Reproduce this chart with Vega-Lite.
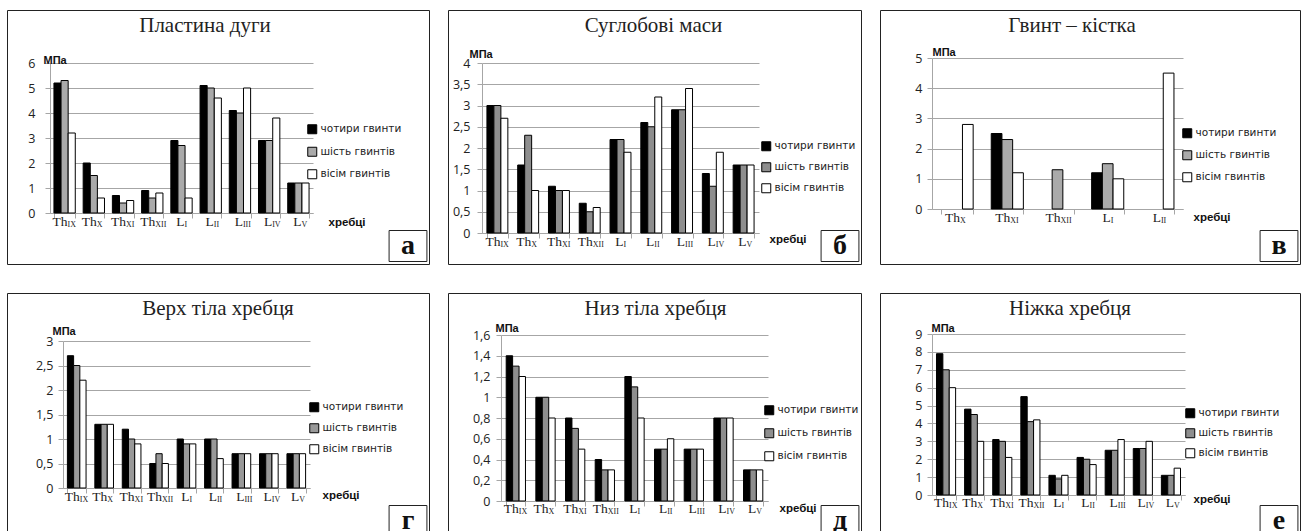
{
  "$schema": "https://vega.github.io/schema/vega-lite/v6.json",
  "background": "white",
  "padding": {"left": 6, "top": 9, "right": 0, "bottom": 0},
  "datasets": {
    "bars": [
      {"p":"а","v":"ThIX","s":"чотири гвинти","val":5.2},{"p":"а","v":"ThIX","s":"шість гвинтів","val":5.3},{"p":"а","v":"ThIX","s":"вісім гвинтів","val":3.2},
      {"p":"а","v":"ThX","s":"чотири гвинти","val":2.0},{"p":"а","v":"ThX","s":"шість гвинтів","val":1.5},{"p":"а","v":"ThX","s":"вісім гвинтів","val":0.6},
      {"p":"а","v":"ThXI","s":"чотири гвинти","val":0.7},{"p":"а","v":"ThXI","s":"шість гвинтів","val":0.4},{"p":"а","v":"ThXI","s":"вісім гвинтів","val":0.5},
      {"p":"а","v":"ThXII","s":"чотири гвинти","val":0.9},{"p":"а","v":"ThXII","s":"шість гвинтів","val":0.6},{"p":"а","v":"ThXII","s":"вісім гвинтів","val":0.8},
      {"p":"а","v":"LI","s":"чотири гвинти","val":2.9},{"p":"а","v":"LI","s":"шість гвинтів","val":2.7},{"p":"а","v":"LI","s":"вісім гвинтів","val":0.6},
      {"p":"а","v":"LII","s":"чотири гвинти","val":5.1},{"p":"а","v":"LII","s":"шість гвинтів","val":5.0},{"p":"а","v":"LII","s":"вісім гвинтів","val":4.6},
      {"p":"а","v":"LIII","s":"чотири гвинти","val":4.1},{"p":"а","v":"LIII","s":"шість гвинтів","val":4.0},{"p":"а","v":"LIII","s":"вісім гвинтів","val":5.0},
      {"p":"а","v":"LIV","s":"чотири гвинти","val":2.9},{"p":"а","v":"LIV","s":"шість гвинтів","val":2.9},{"p":"а","v":"LIV","s":"вісім гвинтів","val":3.8},
      {"p":"а","v":"LV","s":"чотири гвинти","val":1.2},{"p":"а","v":"LV","s":"шість гвинтів","val":1.2},{"p":"а","v":"LV","s":"вісім гвинтів","val":1.2},

      {"p":"б","v":"ThIX","s":"чотири гвинти","val":3.0},{"p":"б","v":"ThIX","s":"шість гвинтів","val":3.0},{"p":"б","v":"ThIX","s":"вісім гвинтів","val":2.7},
      {"p":"б","v":"ThX","s":"чотири гвинти","val":1.6},{"p":"б","v":"ThX","s":"шість гвинтів","val":2.3},{"p":"б","v":"ThX","s":"вісім гвинтів","val":1.0},
      {"p":"б","v":"ThXI","s":"чотири гвинти","val":1.1},{"p":"б","v":"ThXI","s":"шість гвинтів","val":1.0},{"p":"б","v":"ThXI","s":"вісім гвинтів","val":1.0},
      {"p":"б","v":"ThXII","s":"чотири гвинти","val":0.7},{"p":"б","v":"ThXII","s":"шість гвинтів","val":0.5},{"p":"б","v":"ThXII","s":"вісім гвинтів","val":0.6},
      {"p":"б","v":"LI","s":"чотири гвинти","val":2.2},{"p":"б","v":"LI","s":"шість гвинтів","val":2.2},{"p":"б","v":"LI","s":"вісім гвинтів","val":1.9},
      {"p":"б","v":"LII","s":"чотири гвинти","val":2.6},{"p":"б","v":"LII","s":"шість гвинтів","val":2.5},{"p":"б","v":"LII","s":"вісім гвинтів","val":3.2},
      {"p":"б","v":"LIII","s":"чотири гвинти","val":2.9},{"p":"б","v":"LIII","s":"шість гвинтів","val":2.9},{"p":"б","v":"LIII","s":"вісім гвинтів","val":3.4},
      {"p":"б","v":"LIV","s":"чотири гвинти","val":1.4},{"p":"б","v":"LIV","s":"шість гвинтів","val":1.1},{"p":"б","v":"LIV","s":"вісім гвинтів","val":1.9},
      {"p":"б","v":"LV","s":"чотири гвинти","val":1.6},{"p":"б","v":"LV","s":"шість гвинтів","val":1.6},{"p":"б","v":"LV","s":"вісім гвинтів","val":1.6},

      {"p":"в","v":"ThX","s":"вісім гвинтів","val":2.8},
      {"p":"в","v":"ThXI","s":"чотири гвинти","val":2.5},{"p":"в","v":"ThXI","s":"шість гвинтів","val":2.3},{"p":"в","v":"ThXI","s":"вісім гвинтів","val":1.2},
      {"p":"в","v":"ThXII","s":"шість гвинтів","val":1.3},
      {"p":"в","v":"LI","s":"чотири гвинти","val":1.2},{"p":"в","v":"LI","s":"шість гвинтів","val":1.5},{"p":"в","v":"LI","s":"вісім гвинтів","val":1.0},
      {"p":"в","v":"LII","s":"вісім гвинтів","val":4.5},

      {"p":"г","v":"ThIX","s":"чотири гвинти","val":2.7},{"p":"г","v":"ThIX","s":"шість гвинтів","val":2.5},{"p":"г","v":"ThIX","s":"вісім гвинтів","val":2.2},
      {"p":"г","v":"ThX","s":"чотири гвинти","val":1.3},{"p":"г","v":"ThX","s":"шість гвинтів","val":1.3},{"p":"г","v":"ThX","s":"вісім гвинтів","val":1.3},
      {"p":"г","v":"ThXI","s":"чотири гвинти","val":1.2},{"p":"г","v":"ThXI","s":"шість гвинтів","val":1.0},{"p":"г","v":"ThXI","s":"вісім гвинтів","val":0.9},
      {"p":"г","v":"ThXII","s":"чотири гвинти","val":0.5},{"p":"г","v":"ThXII","s":"шість гвинтів","val":0.7},{"p":"г","v":"ThXII","s":"вісім гвинтів","val":0.5},
      {"p":"г","v":"LI","s":"чотири гвинти","val":1.0},{"p":"г","v":"LI","s":"шість гвинтів","val":0.9},{"p":"г","v":"LI","s":"вісім гвинтів","val":0.9},
      {"p":"г","v":"LII","s":"чотири гвинти","val":1.0},{"p":"г","v":"LII","s":"шість гвинтів","val":1.0},{"p":"г","v":"LII","s":"вісім гвинтів","val":0.6},
      {"p":"г","v":"LIII","s":"чотири гвинти","val":0.7},{"p":"г","v":"LIII","s":"шість гвинтів","val":0.7},{"p":"г","v":"LIII","s":"вісім гвинтів","val":0.7},
      {"p":"г","v":"LIV","s":"чотири гвинти","val":0.7},{"p":"г","v":"LIV","s":"шість гвинтів","val":0.7},{"p":"г","v":"LIV","s":"вісім гвинтів","val":0.7},
      {"p":"г","v":"LV","s":"чотири гвинти","val":0.7},{"p":"г","v":"LV","s":"шість гвинтів","val":0.7},{"p":"г","v":"LV","s":"вісім гвинтів","val":0.7},

      {"p":"д","v":"ThIX","s":"чотири гвинти","val":1.4},{"p":"д","v":"ThIX","s":"шість гвинтів","val":1.3},{"p":"д","v":"ThIX","s":"вісім гвинтів","val":1.2},
      {"p":"д","v":"ThX","s":"чотири гвинти","val":1.0},{"p":"д","v":"ThX","s":"шість гвинтів","val":1.0},{"p":"д","v":"ThX","s":"вісім гвинтів","val":0.8},
      {"p":"д","v":"ThXI","s":"чотири гвинти","val":0.8},{"p":"д","v":"ThXI","s":"шість гвинтів","val":0.7},{"p":"д","v":"ThXI","s":"вісім гвинтів","val":0.5},
      {"p":"д","v":"ThXII","s":"чотири гвинти","val":0.4},{"p":"д","v":"ThXII","s":"шість гвинтів","val":0.3},{"p":"д","v":"ThXII","s":"вісім гвинтів","val":0.3},
      {"p":"д","v":"LI","s":"чотири гвинти","val":1.2},{"p":"д","v":"LI","s":"шість гвинтів","val":1.1},{"p":"д","v":"LI","s":"вісім гвинтів","val":0.8},
      {"p":"д","v":"LII","s":"чотири гвинти","val":0.5},{"p":"д","v":"LII","s":"шість гвинтів","val":0.5},{"p":"д","v":"LII","s":"вісім гвинтів","val":0.6},
      {"p":"д","v":"LIII","s":"чотири гвинти","val":0.5},{"p":"д","v":"LIII","s":"шість гвинтів","val":0.5},{"p":"д","v":"LIII","s":"вісім гвинтів","val":0.5},
      {"p":"д","v":"LIV","s":"чотири гвинти","val":0.8},{"p":"д","v":"LIV","s":"шість гвинтів","val":0.8},{"p":"д","v":"LIV","s":"вісім гвинтів","val":0.8},
      {"p":"д","v":"LV","s":"чотири гвинти","val":0.3},{"p":"д","v":"LV","s":"шість гвинтів","val":0.3},{"p":"д","v":"LV","s":"вісім гвинтів","val":0.3},

      {"p":"е","v":"ThIX","s":"чотири гвинти","val":7.9},{"p":"е","v":"ThIX","s":"шість гвинтів","val":7.0},{"p":"е","v":"ThIX","s":"вісім гвинтів","val":6.0},
      {"p":"е","v":"ThX","s":"чотири гвинти","val":4.8},{"p":"е","v":"ThX","s":"шість гвинтів","val":4.5},{"p":"е","v":"ThX","s":"вісім гвинтів","val":3.0},
      {"p":"е","v":"ThXI","s":"чотири гвинти","val":3.1},{"p":"е","v":"ThXI","s":"шість гвинтів","val":3.0},{"p":"е","v":"ThXI","s":"вісім гвинтів","val":2.1},
      {"p":"е","v":"ThXII","s":"чотири гвинти","val":5.5},{"p":"е","v":"ThXII","s":"шість гвинтів","val":4.1},{"p":"е","v":"ThXII","s":"вісім гвинтів","val":4.2},
      {"p":"е","v":"LI","s":"чотири гвинти","val":1.1},{"p":"е","v":"LI","s":"шість гвинтів","val":0.9},{"p":"е","v":"LI","s":"вісім гвинтів","val":1.1},
      {"p":"е","v":"LII","s":"чотири гвинти","val":2.1},{"p":"е","v":"LII","s":"шість гвинтів","val":2.0},{"p":"е","v":"LII","s":"вісім гвинтів","val":1.7},
      {"p":"е","v":"LIII","s":"чотири гвинти","val":2.5},{"p":"е","v":"LIII","s":"шість гвинтів","val":2.5},{"p":"е","v":"LIII","s":"вісім гвинтів","val":3.1},
      {"p":"е","v":"LIV","s":"чотири гвинти","val":2.6},{"p":"е","v":"LIV","s":"шість гвинтів","val":2.6},{"p":"е","v":"LIV","s":"вісім гвинтів","val":3.0},
      {"p":"е","v":"LV","s":"чотири гвинти","val":1.1},{"p":"е","v":"LV","s":"шість гвинтів","val":1.1},{"p":"е","v":"LV","s":"вісім гвинтів","val":1.5}
    ],
    "labels": [
      {"v":"ThIX","m":"Th","sb":"IX"},{"v":"ThX","m":"Th","sb":"X"},{"v":"ThXI","m":"Th","sb":"XI"},{"v":"ThXII","m":"Th","sb":"XII"},
      {"v":"LI","m":"L","sb":"I"},{"v":"LII","m":"L","sb":"II"},{"v":"LIII","m":"L","sb":"III"},{"v":"LIV","m":"L","sb":"IV"},{"v":"LV","m":"L","sb":"V"}
    ]
  },
  "vconcat": [
    {
      "hconcat": [
        {
          "width": 422, "height": 254,
          "title": {"text": "Пластина дуги", "dx": -13},
          "resolve": {"axis": {"x": "independent", "y": "independent"}},
          "layer": [
            {
              "data": {"name": "bars"},
              "transform": [{"filter": "datum.p === 'а'"}],
              "mark": "bar",
              "encoding": {
                "x": {"field": "v", "type": "nominal", "scale": {"domain": ["ThIX","ThX","ThXI","ThXII","LI","LII","LIII","LIV","LV"], "range": [43, 306], "paddingInner": 0.27, "paddingOuter": 0.135}, "axis": {"title": "хребці", "offset": -51, "titleX": 321, "titleY": 12, "tickBand": "extent"}},
                "xOffset": {"field": "s", "type": "nominal", "scale": {"domain": ["чотири гвинти","шість гвинтів","вісім гвинтів"], "paddingInner": 0, "paddingOuter": 0}},
                "y": {"field": "val", "type": "quantitative", "scale": {"domain": [0, 6], "range": [203, 53], "nice": false}, "axis": {"title": "МПа", "offset": -43, "values": [0,1,2,3,4,5,6], "titleX": -7, "titleY": 53, "labelPadding": 10}},
                "color": {"field": "s", "type": "nominal", "scale": {"domain": ["чотири гвинти","шість гвинтів","вісім гвинтів"], "range": ["#000000", "#aaaaaa", "#ffffff"]}, "legend": {"title": null, "orient": "none", "direction": "vertical", "legendX": 300, "legendY": 114, "rowPadding": 8.5}},
                "opacity": {"field": "p", "type": "nominal", "scale": {"range": [1]}, "legend": {"title": null, "orient": "bottom-right", "offset": 0, "padding": 0, "symbolType": "M-1.22,-1H1.22V1H-1.22Z", "symbolSize": 961, "symbolFillColor": "#ffffff", "symbolStrokeColor": "#222222", "symbolStrokeWidth": 1.2, "symbolOpacity": 1, "labelFont": "Liberation Serif", "labelFontSize": 28, "labelFontWeight": "bold", "labelColor": "#111111", "labelAlign": "center", "labelBaseline": "middle", "labelOffset": -16}}
              }
            },
            {
              "data": {"name": "labels"},
              "mark": {"type": "text", "align": "right", "baseline": "alphabetic", "dx": 3, "dy": 13, "fontSize": 13.5},
              "encoding": {
                "x": {"field": "v", "type": "nominal", "scale": {"domain": ["ThIX","ThX","ThXI","ThXII","LI","LII","LIII","LIV","LV"]}, "axis": null},
                "y": {"datum": 0, "type": "quantitative", "scale": {"domain": [0, 6]}, "axis": null},
                "text": {"field": "m"}
              }
            },
            {
              "data": {"name": "labels"},
              "mark": {"type": "text", "align": "left", "baseline": "alphabetic", "dx": 3, "dy": 14, "fontSize": 8},
              "encoding": {
                "x": {"field": "v", "type": "nominal", "scale": {"domain": ["ThIX","ThX","ThXI","ThXII","LI","LII","LIII","LIV","LV"]}, "axis": null},
                "y": {"datum": 0, "type": "quantitative", "scale": {"domain": [0, 6]}, "axis": null},
                "text": {"field": "sb"}
              }
            }
          ]
        },
        {
          "width": 413, "height": 254,
          "title": {"text": "Суглобові маси", "dx": -1},
          "resolve": {"axis": {"x": "independent", "y": "independent"}},
          "layer": [
            {
              "data": {"name": "bars"},
              "transform": [{"filter": "datum.p === 'б'"}],
              "mark": "bar",
              "encoding": {
                "x": {"field": "v", "type": "nominal", "scale": {"domain": ["ThIX","ThX","ThXI","ThXII","LI","LII","LIII","LIV","LV"], "range": [34, 311], "paddingInner": 0.32, "paddingOuter": 0.16}, "axis": {"title": "хребці", "offset": -31, "titleX": 321, "titleY": 9, "tickBand": "extent"}},
                "xOffset": {"field": "s", "type": "nominal", "scale": {"domain": ["чотири гвинти","шість гвинтів","вісім гвинтів"], "paddingInner": 0, "paddingOuter": 0}},
                "y": {"field": "val", "type": "quantitative", "scale": {"domain": [0, 4], "range": [223, 53], "nice": false}, "axis": {"title": "МПа", "offset": -34, "values": [0,0.5,1,1.5,2,2.5,3,3.5,4], "titleX": -13, "titleY": 47, "labelPadding": 7}},
                "color": {"field": "s", "type": "nominal", "scale": {"domain": ["чотири гвинти","шість гвинтів","вісім гвинтів"], "range": ["#000000", "#8e8e8e", "#ffffff"]}, "legend": {"title": null, "orient": "none", "direction": "vertical", "legendX": 313, "legendY": 131, "rowPadding": 7}},
                "opacity": {"field": "p", "type": "nominal", "scale": {"range": [1]}, "legend": {"title": null, "orient": "bottom-right", "offset": 0, "padding": 0, "symbolType": "M-1.22,-1H1.22V1H-1.22Z", "symbolSize": 961, "symbolFillColor": "#ffffff", "symbolStrokeColor": "#222222", "symbolStrokeWidth": 1.2, "symbolOpacity": 1, "labelFont": "Liberation Serif", "labelFontSize": 28, "labelFontWeight": "bold", "labelColor": "#111111", "labelAlign": "center", "labelBaseline": "middle", "labelOffset": -16}}
              }
            },
            {
              "data": {"name": "labels"},
              "mark": {"type": "text", "align": "right", "baseline": "alphabetic", "dx": 3, "dy": 13, "fontSize": 13.5},
              "encoding": {
                "x": {"field": "v", "type": "nominal", "scale": {"domain": ["ThIX","ThX","ThXI","ThXII","LI","LII","LIII","LIV","LV"]}, "axis": null},
                "y": {"datum": 0, "type": "quantitative", "scale": {"domain": [0, 4]}, "axis": null},
                "text": {"field": "m"}
              }
            },
            {
              "data": {"name": "labels"},
              "mark": {"type": "text", "align": "left", "baseline": "alphabetic", "dx": 3, "dy": 14, "fontSize": 8},
              "encoding": {
                "x": {"field": "v", "type": "nominal", "scale": {"domain": ["ThIX","ThX","ThXI","ThXII","LI","LII","LIII","LIV","LV"]}, "axis": null},
                "y": {"datum": 0, "type": "quantitative", "scale": {"domain": [0, 4]}, "axis": null},
                "text": {"field": "sb"}
              }
            }
          ]
        },
        {
          "width": 420, "height": 254,
          "title": {"text": "Гвинт – кістка", "dx": -18},
          "resolve": {"axis": {"x": "independent", "y": "independent"}},
          "layer": [
            {
              "data": {"name": "bars"},
              "transform": [{"filter": "datum.p === 'в'"}],
              "mark": "bar",
              "encoding": {
                "x": {"field": "v", "type": "nominal", "scale": {"domain": ["ThX","ThXI","ThXII","LI","LII"], "range": [52, 303], "paddingInner": 0.36, "paddingOuter": 0.18}, "axis": {"title": "хребці", "offset": -55, "titleX": 313, "titleY": 11, "tickBand": "extent"}},
                "xOffset": {"field": "s", "type": "nominal", "scale": {"domain": ["чотири гвинти","шість гвинтів","вісім гвинтів"], "paddingInner": 0, "paddingOuter": 0}},
                "y": {"field": "val", "type": "quantitative", "scale": {"domain": [0, 5], "range": [199, 48], "nice": false}, "axis": {"title": "МПа", "offset": -52, "values": [0,1,2,3,4,5], "titleX": 0, "titleY": 45, "labelPadding": 5}},
                "color": {"field": "s", "type": "nominal", "scale": {"domain": ["чотири гвинти","шість гвинтів","вісім гвинтів"], "range": ["#000000", "#aaaaaa", "#ffffff"]}, "legend": {"title": null, "orient": "none", "direction": "vertical", "legendX": 302, "legendY": 118, "rowPadding": 8}},
                "opacity": {"field": "p", "type": "nominal", "scale": {"range": [1]}, "legend": {"title": null, "orient": "bottom-right", "offset": 0, "padding": 0, "symbolType": "M-1.22,-1H1.22V1H-1.22Z", "symbolSize": 961, "symbolFillColor": "#ffffff", "symbolStrokeColor": "#222222", "symbolStrokeWidth": 1.2, "symbolOpacity": 1, "labelFont": "Liberation Serif", "labelFontSize": 28, "labelFontWeight": "bold", "labelColor": "#111111", "labelAlign": "center", "labelBaseline": "middle", "labelOffset": -16}}
              }
            },
            {
              "data": {"name": "labels"},
              "transform": [{"filter": "indexof(['ThX','ThXI','ThXII','LI','LII'], datum.v) >= 0"}],
              "mark": {"type": "text", "align": "right", "baseline": "alphabetic", "dx": 3, "dy": 13, "fontSize": 13.5},
              "encoding": {
                "x": {"field": "v", "type": "nominal", "scale": {"domain": ["ThX","ThXI","ThXII","LI","LII"]}, "axis": null},
                "y": {"datum": 0, "type": "quantitative", "scale": {"domain": [0, 5]}, "axis": null},
                "text": {"field": "m"}
              }
            },
            {
              "data": {"name": "labels"},
              "transform": [{"filter": "indexof(['ThX','ThXI','ThXII','LI','LII'], datum.v) >= 0"}],
              "mark": {"type": "text", "align": "left", "baseline": "alphabetic", "dx": 3, "dy": 14, "fontSize": 8},
              "encoding": {
                "x": {"field": "v", "type": "nominal", "scale": {"domain": ["ThX","ThXI","ThXII","LI","LII"]}, "axis": null},
                "y": {"datum": 0, "type": "quantitative", "scale": {"domain": [0, 5]}, "axis": null},
                "text": {"field": "sb"}
              }
            }
          ]
        }
      ],
      "spacing": 19,
      "bounds": "flush",
      "resolve": {"scale": {"color": "independent", "opacity": "independent", "xOffset": "independent"}, "legend": {"color": "independent", "opacity": "independent"}}
    },
    {
      "hconcat": [
        {
          "width": 422, "height": 246,
          "title": {"text": "Верх тіла хребця", "dx": 0},
          "resolve": {"axis": {"x": "independent", "y": "independent"}},
          "layer": [
            {
              "data": {"name": "bars"},
              "transform": [{"filter": "datum.p === 'г'"}],
              "mark": "bar",
              "encoding": {
                "x": {"field": "v", "type": "nominal", "scale": {"domain": ["ThIX","ThX","ThXI","ThXII","LI","LII","LIII","LIV","LV"], "range": [56, 303], "paddingInner": 0.32, "paddingOuter": 0.16}, "axis": {"title": "хребці", "offset": -51, "titleX": 315, "titleY": 10, "tickBand": "extent"}},
                "xOffset": {"field": "s", "type": "nominal", "scale": {"domain": ["чотири гвинти","шість гвинтів","вісім гвинтів"], "paddingInner": 0, "paddingOuter": 0}},
                "y": {"field": "val", "type": "quantitative", "scale": {"domain": [0, 3], "range": [195, 48], "nice": false}, "axis": {"title": "МПа", "offset": -56, "values": [0,0.5,1,1.5,2,2.5,3], "titleX": -11, "titleY": 41, "labelPadding": 5}},
                "color": {"field": "s", "type": "nominal", "scale": {"domain": ["чотири гвинти","шість гвинтів","вісім гвинтів"], "range": ["#000000", "#999999", "#ffffff"]}, "legend": {"title": null, "orient": "none", "direction": "vertical", "legendX": 302, "legendY": 109, "rowPadding": 7}},
                "opacity": {"field": "p", "type": "nominal", "scale": {"range": [1]}, "legend": {"title": null, "orient": "bottom-right", "offset": 0, "padding": 0, "symbolType": "M-1.22,-1H1.22V1H-1.22Z", "symbolSize": 961, "symbolFillColor": "#ffffff", "symbolStrokeColor": "#222222", "symbolStrokeWidth": 1.2, "symbolOpacity": 1, "labelFont": "Liberation Serif", "labelFontSize": 28, "labelFontWeight": "bold", "labelColor": "#111111", "labelAlign": "center", "labelBaseline": "middle", "labelOffset": -16}}
              }
            },
            {
              "data": {"name": "labels"},
              "mark": {"type": "text", "align": "right", "baseline": "alphabetic", "dx": 3, "dy": 13, "fontSize": 13.5},
              "encoding": {
                "x": {"field": "v", "type": "nominal", "scale": {"domain": ["ThIX","ThX","ThXI","ThXII","LI","LII","LIII","LIV","LV"]}, "axis": null},
                "y": {"datum": 0, "type": "quantitative", "scale": {"domain": [0, 3]}, "axis": null},
                "text": {"field": "m"}
              }
            },
            {
              "data": {"name": "labels"},
              "mark": {"type": "text", "align": "left", "baseline": "alphabetic", "dx": 3, "dy": 14, "fontSize": 8},
              "encoding": {
                "x": {"field": "v", "type": "nominal", "scale": {"domain": ["ThIX","ThX","ThXI","ThXII","LI","LII","LIII","LIV","LV"]}, "axis": null},
                "y": {"datum": 0, "type": "quantitative", "scale": {"domain": [0, 3]}, "axis": null},
                "text": {"field": "sb"}
              }
            }
          ]
        },
        {
          "width": 413, "height": 246,
          "title": {"text": "Низ тіла хребця", "dx": 1},
          "resolve": {"axis": {"x": "independent", "y": "independent"}},
          "layer": [
            {
              "data": {"name": "bars"},
              "transform": [{"filter": "datum.p === 'д'"}],
              "mark": "bar",
              "encoding": {
                "x": {"field": "v", "type": "nominal", "scale": {"domain": ["ThIX","ThX","ThXI","ThXII","LI","LII","LIII","LIV","LV"], "range": [53, 320], "paddingInner": 0.35, "paddingOuter": 0.175}, "axis": {"title": "хребці", "offset": -38, "titleX": 331, "titleY": 10, "tickBand": "extent"}},
                "xOffset": {"field": "s", "type": "nominal", "scale": {"domain": ["чотири гвинти","шість гвинтів","вісім гвинтів"], "paddingInner": 0, "paddingOuter": 0}},
                "y": {"field": "val", "type": "quantitative", "scale": {"domain": [0, 1.6], "range": [208, 42], "nice": false}, "axis": {"title": "МПа", "offset": -53, "values": [0,0.2,0.4,0.6,0.8,1,1.2,1.4,1.6], "titleX": -6, "titleY": 38, "labelPadding": 6}},
                "color": {"field": "s", "type": "nominal", "scale": {"domain": ["чотири гвинти","шість гвинтів","вісім гвинтів"], "range": ["#000000", "#8e8e8e", "#ffffff"]}, "legend": {"title": null, "orient": "none", "direction": "vertical", "legendX": 316, "legendY": 112, "rowPadding": 9}},
                "opacity": {"field": "p", "type": "nominal", "scale": {"range": [1]}, "legend": {"title": null, "orient": "bottom-right", "offset": 0, "padding": 0, "symbolType": "M-1.22,-1H1.22V1H-1.22Z", "symbolSize": 961, "symbolFillColor": "#ffffff", "symbolStrokeColor": "#222222", "symbolStrokeWidth": 1.2, "symbolOpacity": 1, "labelFont": "Liberation Serif", "labelFontSize": 28, "labelFontWeight": "bold", "labelColor": "#111111", "labelAlign": "center", "labelBaseline": "middle", "labelOffset": -16}}
              }
            },
            {
              "data": {"name": "labels"},
              "mark": {"type": "text", "align": "right", "baseline": "alphabetic", "dx": 3, "dy": 12, "fontSize": 13.5},
              "encoding": {
                "x": {"field": "v", "type": "nominal", "scale": {"domain": ["ThIX","ThX","ThXI","ThXII","LI","LII","LIII","LIV","LV"]}, "axis": null},
                "y": {"datum": 0, "type": "quantitative", "scale": {"domain": [0, 1.6]}, "axis": null},
                "text": {"field": "m"}
              }
            },
            {
              "data": {"name": "labels"},
              "mark": {"type": "text", "align": "left", "baseline": "alphabetic", "dx": 3, "dy": 13, "fontSize": 8},
              "encoding": {
                "x": {"field": "v", "type": "nominal", "scale": {"domain": ["ThIX","ThX","ThXI","ThXII","LI","LII","LIII","LIV","LV"]}, "axis": null},
                "y": {"datum": 0, "type": "quantitative", "scale": {"domain": [0, 1.6]}, "axis": null},
                "text": {"field": "sb"}
              }
            }
          ]
        },
        {
          "width": 420, "height": 246,
          "title": {"text": "Ніжка хребця", "dx": -20},
          "resolve": {"axis": {"x": "independent", "y": "independent"}},
          "layer": [
            {
              "data": {"name": "bars"},
              "transform": [{"filter": "datum.p === 'е'"}],
              "mark": "bar",
              "encoding": {
                "x": {"field": "v", "type": "nominal", "scale": {"domain": ["ThIX","ThX","ThXI","ThXII","LI","LII","LIII","LIV","LV"], "range": [52, 305], "paddingInner": 0.32, "paddingOuter": 0.16}, "axis": {"title": "хребці", "offset": -44, "titleX": 313, "titleY": 7, "tickBand": "extent"}},
                "xOffset": {"field": "s", "type": "nominal", "scale": {"domain": ["чотири гвинти","шість гвинтів","вісім гвинтів"], "paddingInner": 0, "paddingOuter": 0}},
                "y": {"field": "val", "type": "quantitative", "scale": {"domain": [0, 9], "range": [202, 41], "nice": false}, "axis": {"title": "МПа", "offset": -52, "values": [0,1,2,3,4,5,6,7,8,9], "titleX": -1, "titleY": 38, "labelPadding": 5}},
                "color": {"field": "s", "type": "nominal", "scale": {"domain": ["чотири гвинти","шість гвинтів","вісім гвинтів"], "range": ["#000000", "#8e8e8e", "#ffffff"]}, "legend": {"title": null, "orient": "none", "direction": "vertical", "legendX": 305, "legendY": 115, "rowPadding": 6}},
                "opacity": {"field": "p", "type": "nominal", "scale": {"range": [1]}, "legend": {"title": null, "orient": "bottom-right", "offset": 0, "padding": 0, "symbolType": "M-1.22,-1H1.22V1H-1.22Z", "symbolSize": 961, "symbolFillColor": "#ffffff", "symbolStrokeColor": "#222222", "symbolStrokeWidth": 1.2, "symbolOpacity": 1, "labelFont": "Liberation Serif", "labelFontSize": 28, "labelFontWeight": "bold", "labelColor": "#111111", "labelAlign": "center", "labelBaseline": "middle", "labelOffset": -16}}
              }
            },
            {
              "data": {"name": "labels"},
              "mark": {"type": "text", "align": "right", "baseline": "alphabetic", "dx": 3, "dy": 12, "fontSize": 13.5},
              "encoding": {
                "x": {"field": "v", "type": "nominal", "scale": {"domain": ["ThIX","ThX","ThXI","ThXII","LI","LII","LIII","LIV","LV"]}, "axis": null},
                "y": {"datum": 0, "type": "quantitative", "scale": {"domain": [0, 9]}, "axis": null},
                "text": {"field": "m"}
              }
            },
            {
              "data": {"name": "labels"},
              "mark": {"type": "text", "align": "left", "baseline": "alphabetic", "dx": 3, "dy": 13, "fontSize": 8},
              "encoding": {
                "x": {"field": "v", "type": "nominal", "scale": {"domain": ["ThIX","ThX","ThXI","ThXII","LI","LII","LIII","LIV","LV"]}, "axis": null},
                "y": {"datum": 0, "type": "quantitative", "scale": {"domain": [0, 9]}, "axis": null},
                "text": {"field": "sb"}
              }
            }
          ]
        }
      ],
      "spacing": 19,
      "bounds": "flush",
      "resolve": {"scale": {"color": "independent", "opacity": "independent", "xOffset": "independent"}, "legend": {"color": "independent", "opacity": "independent"}}
    }
  ],
  "spacing": 27,
  "resolve": {"scale": {"color": "independent", "opacity": "independent", "xOffset": "independent"}, "legend": {"color": "independent", "opacity": "independent"}},
  "config": {
    "view": {"stroke": "#222222", "strokeWidth": 1},
    "bar": {"stroke": "#000000", "strokeWidth": 1},
    "text": {"font": "Liberation Serif", "color": "#222222"},
    "title": {"font": "Liberation Serif", "fontSize": 21, "fontWeight": "normal", "color": "#222222", "frame": "group", "anchor": "middle", "baseline": "alphabetic", "offset": -26},
    "axisY": {"grid": true, "gridColor": "#a6a6a6", "gridWidth": 1, "domainColor": "#a6a6a6", "tickColor": "#a6a6a6", "tickSize": 5, "labelFont": "Open Sans", "labelFontSize": 12.5, "labelColor": "#222222", "labelExpr": "replace(format(datum.value, '~g'), '.', ',')", "titleAngle": 0, "titleAlign": "left", "titleBaseline": "alphabetic", "titleFont": "Liberation Sans", "titleFontWeight": "bold", "titleFontSize": 11, "titleColor": "#111111", "labelOverlap": false},
    "axisX": {"grid": false, "labels": false, "domainColor": "#a6a6a6", "tickColor": "#a6a6a6", "tickSize": 5, "titleAngle": 0, "titleAlign": "left", "titleBaseline": "alphabetic", "titleFont": "Liberation Sans", "titleFontWeight": "bold", "titleFontSize": 11.5, "titleColor": "#111111"},
    "legend": {"labelFont": "DejaVu Sans", "labelFontSize": 10.5, "labelColor": "#222222", "symbolSize": 81, "symbolType": "square", "symbolStrokeColor": "#000000", "symbolStrokeWidth": 1, "labelOffset": 3, "padding": 0}
  }
}
